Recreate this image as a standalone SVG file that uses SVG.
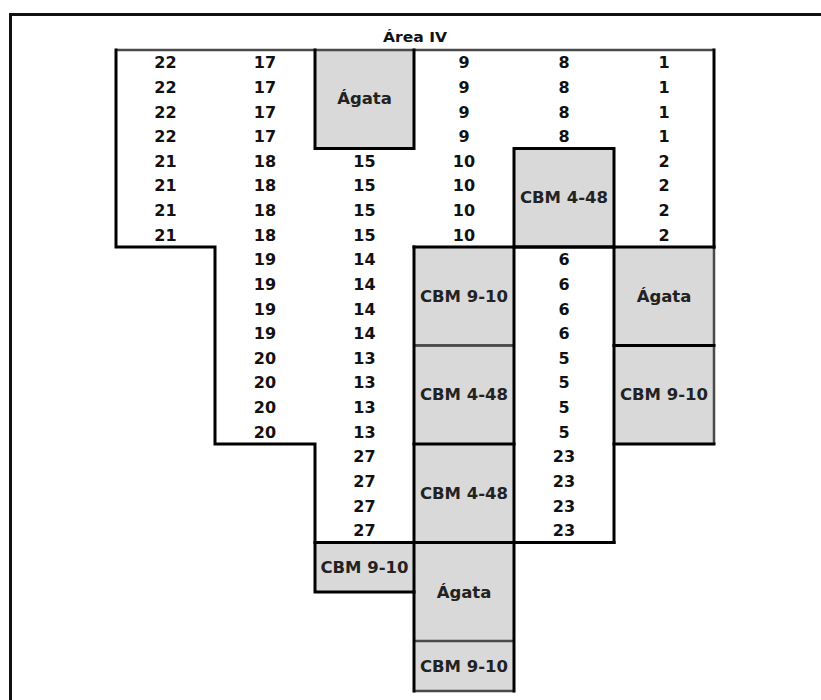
<svg xmlns="http://www.w3.org/2000/svg" width="821" height="700" viewBox="0 0 821 700">
  <style>
    .num { font-family: "DejaVu Sans", "Liberation Sans", sans-serif; font-weight: bold; font-size: 16px; fill: #111; text-anchor: middle; }
    .lbl { font-family: "DejaVu Sans", "Liberation Sans", sans-serif; font-weight: bold; font-size: 16.5px; fill: #222; text-anchor: middle; }
    .title { font-family: "DejaVu Sans", "Liberation Sans", sans-serif; font-weight: bold; font-size: 14px; fill: #111; text-anchor: middle; }
    .box { fill: #d9d9d9; stroke: #444; stroke-width: 2; }
    .thick { fill: none; stroke: #000; stroke-width: 3; stroke-linecap: square; }
    .soft { fill: none; stroke: #4a4a4a; stroke-width: 2.5; }
    .frame { fill: none; stroke: #111; stroke-width: 3; }
  </style>

  <rect x="0" y="0" width="821" height="700" fill="#fff"/>

  <!-- outer frame -->
  <path class="frame" d="M10.5,700 V14.5 H821"/>

  <text class="title" x="415" y="42" textLength="64" lengthAdjust="spacingAndGlyphs">Área IV</text>

  <!-- shaded blocks -->
  <g id="agata-1"><rect class="box" x="315" y="50" width="99" height="98.5"/><text class="lbl" x="364.5" y="104">Ágata</text></g>
  <g id="cbm448-1"><rect class="box" x="514" y="148.5" width="100" height="98.5"/><text class="lbl" x="564" y="203.3">CBM 4-48</text></g>
  <g id="cbm910-1"><rect class="box" x="414" y="247" width="100" height="98.5"/><text class="lbl" x="464" y="301.5">CBM 9-10</text></g>
  <g id="agata-2"><rect class="box" x="614" y="247" width="100" height="98.5"/><text class="lbl" x="664" y="301.5">Ágata</text></g>
  <g id="cbm448-2"><rect class="box" x="414" y="345.5" width="100" height="98.5"/><text class="lbl" x="464" y="400.3">CBM 4-48</text></g>
  <g id="cbm910-2"><rect class="box" x="614" y="345.5" width="100" height="98.5"/><text class="lbl" x="664" y="400.3">CBM 9-10</text></g>
  <g id="cbm448-3"><rect class="box" x="414" y="444" width="100" height="98.5"/><text class="lbl" x="464" y="498.5">CBM 4-48</text></g>
  <g id="cbm910-3"><rect class="box" x="315" y="542.5" width="99" height="49.5"/><text class="lbl" x="364.5" y="572.5">CBM 9-10</text></g>
  <g id="agata-3"><rect class="box" x="414" y="542.5" width="100" height="98.5"/><text class="lbl" x="464" y="597.5">Ágata</text></g>
  <g id="cbm910-4"><rect class="box" x="414" y="641" width="100" height="50"/><text class="lbl" x="464" y="671.5">CBM 9-10</text></g>

  <!-- numbered rows, one group per column -->
  <g id="col-1">
    <text class="num" x="165.5" y="68.3">22</text><text class="num" x="165.5" y="92.9">22</text><text class="num" x="165.5" y="117.5">22</text><text class="num" x="165.5" y="142.1">22</text>
    <text class="num" x="165.5" y="166.8">21</text><text class="num" x="165.5" y="191.4">21</text><text class="num" x="165.5" y="216">21</text><text class="num" x="165.5" y="240.6">21</text>
  </g>
  <g id="col-2">
    <text class="num" x="265" y="68.3">17</text><text class="num" x="265" y="92.9">17</text><text class="num" x="265" y="117.5">17</text><text class="num" x="265" y="142.1">17</text>
    <text class="num" x="265" y="166.8">18</text><text class="num" x="265" y="191.4">18</text><text class="num" x="265" y="216">18</text><text class="num" x="265" y="240.6">18</text>
    <text class="num" x="265" y="265.3">19</text><text class="num" x="265" y="289.9">19</text><text class="num" x="265" y="314.5">19</text><text class="num" x="265" y="339.1">19</text>
    <text class="num" x="265" y="363.8">20</text><text class="num" x="265" y="388.4">20</text><text class="num" x="265" y="413">20</text><text class="num" x="265" y="437.6">20</text>
  </g>
  <g id="col-3">
    <text class="num" x="364.5" y="166.8">15</text><text class="num" x="364.5" y="191.4">15</text><text class="num" x="364.5" y="216">15</text><text class="num" x="364.5" y="240.6">15</text>
    <text class="num" x="364.5" y="265.3">14</text><text class="num" x="364.5" y="289.9">14</text><text class="num" x="364.5" y="314.5">14</text><text class="num" x="364.5" y="339.1">14</text>
    <text class="num" x="364.5" y="363.8">13</text><text class="num" x="364.5" y="388.4">13</text><text class="num" x="364.5" y="413">13</text><text class="num" x="364.5" y="437.6">13</text>
    <text class="num" x="364.5" y="462.3">27</text><text class="num" x="364.5" y="486.9">27</text><text class="num" x="364.5" y="511.5">27</text><text class="num" x="364.5" y="536.1">27</text>
  </g>
  <g id="col-4">
    <text class="num" x="464" y="68.3">9</text><text class="num" x="464" y="92.9">9</text><text class="num" x="464" y="117.5">9</text><text class="num" x="464" y="142.1">9</text>
    <text class="num" x="464" y="166.8">10</text><text class="num" x="464" y="191.4">10</text><text class="num" x="464" y="216">10</text><text class="num" x="464" y="240.6">10</text>
  </g>
  <g id="col-5">
    <text class="num" x="564" y="68.3">8</text><text class="num" x="564" y="92.9">8</text><text class="num" x="564" y="117.5">8</text><text class="num" x="564" y="142.1">8</text>
    <text class="num" x="564" y="265.3">6</text><text class="num" x="564" y="289.9">6</text><text class="num" x="564" y="314.5">6</text><text class="num" x="564" y="339.1">6</text>
    <text class="num" x="564" y="363.8">5</text><text class="num" x="564" y="388.4">5</text><text class="num" x="564" y="413">5</text><text class="num" x="564" y="437.6">5</text>
    <text class="num" x="564" y="462.3">23</text><text class="num" x="564" y="486.9">23</text><text class="num" x="564" y="511.5">23</text><text class="num" x="564" y="536.1">23</text>
  </g>
  <g id="col-6">
    <text class="num" x="664" y="68.3">1</text><text class="num" x="664" y="92.9">1</text><text class="num" x="664" y="117.5">1</text><text class="num" x="664" y="142.1">1</text>
    <text class="num" x="664" y="166.8">2</text><text class="num" x="664" y="191.4">2</text><text class="num" x="664" y="216">2</text><text class="num" x="664" y="240.6">2</text>
  </g>

  <!-- borders -->
  <g id="borders">
    <path class="soft" d="M116,50 H714"/>
    <path class="soft" d="M714,247 V444 M414,345.5 H514 M414,641 H514 M414,691 H514"/>
    <path class="thick" d="M116,50 V247 H215 V444 H315 V592 H414"/>
    <path class="thick" d="M714,50 V247"/>
    <path class="thick" d="M315,50 V148.5 H414 V50"/>
    <path class="thick" d="M514,148.5 H614 V247 H514 Z"/>
    <path class="thick" d="M414,247 H714"/>
    <path class="thick" d="M414,247 V691 M514,247 V691 M614,247 V542.5"/>
    <path class="thick" d="M315,542.5 H614"/>
    <path class="thick" d="M414,444 H514 M614,345.5 H714 M614,444 H714"/>
  </g>
</svg>
